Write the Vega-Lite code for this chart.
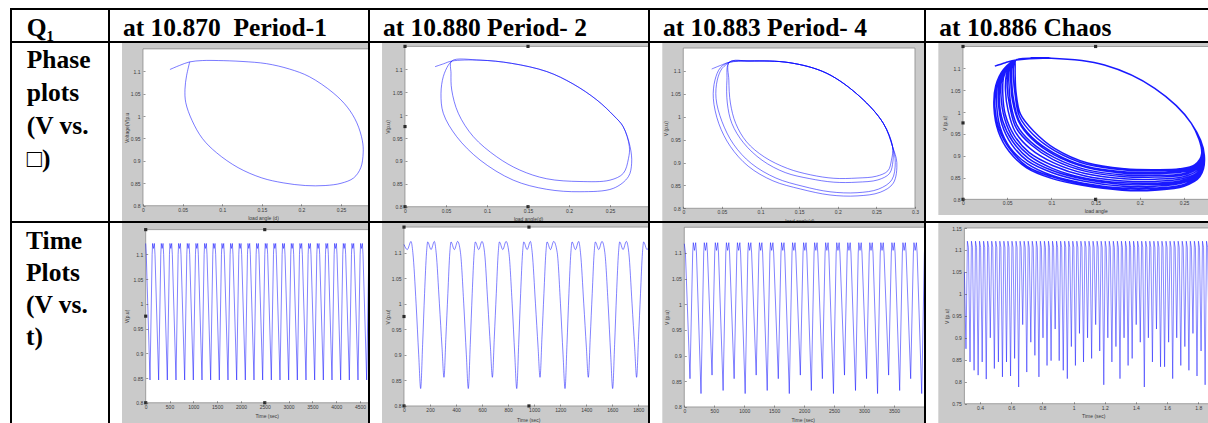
{
"$schema":"https://vega.github.io/schema/vega-lite/v6.json",
"background":"white",
"padding":{"left":10,"top":8,"right":-3,"bottom":-3},
"spacing":0,
"bounds":"flush",
"columns":5,
"config":{
 "view":{"stroke":"black","strokeWidth":2},
 "axis":{"domain":false,"grid":false,"tickSize":-2,"tickWidth":0.6,"tickColor":"#505050","labelFont":"Liberation Sans","labelFontSize":5,"labelColor":"#3a3a3a","labelOverlap":false,"labelFlush":false,"titleFont":"Liberation Sans","titleFontSize":5,"titleFontWeight":"normal","titleColor":"#3a3a3a","titleAlign":"center","titleBaseline":"middle","labelExpr":"''+datum.value"},
 "axisX":{"labelPadding":3.5},
 "axisY":{"labelPadding":5},
 "text":{"font":"Liberation Serif","fontWeight":"bold","fontSize":25.5,"align":"left","baseline":"alphabetic","lineBreak":"\n","color":"black"}
},
"datasets":{
"p1":[{"x":0.034,"y":1.104},{"x":0.046,"y":1.113},{"x":0.059,"y":1.121},{"x":0.075,"y":1.124},{"x":0.095,"y":1.124},{"x":0.125,"y":1.122},{"x":0.156,"y":1.117},{"x":0.185,"y":1.105},{"x":0.21,"y":1.088},{"x":0.24,"y":1.052},{"x":0.258,"y":1.02},{"x":0.27,"y":0.985},{"x":0.277,"y":0.945},{"x":0.278,"y":0.918},{"x":0.275,"y":0.885},{"x":0.266,"y":0.862},{"x":0.25,"y":0.85},{"x":0.23,"y":0.845},{"x":0.205,"y":0.845},{"x":0.177,"y":0.851},{"x":0.15,"y":0.862},{"x":0.12,"y":0.885},{"x":0.093,"y":0.918},{"x":0.075,"y":0.95},{"x":0.062,"y":0.99},{"x":0.054,"y":1.03},{"x":0.053,"y":1.06},{"x":0.055,"y":1.09},{"x":0.059,"y":1.121}],
"p2":[{"x":0.0366,"y":1.1057},{"x":0.047,"y":1.112},{"x":0.057,"y":1.118},{"x":0.0915,"y":1.12},{"x":0.13,"y":1.113},{"x":0.173,"y":1.095},{"x":0.205,"y":1.068},{"x":0.234,"y":1.033},{"x":0.255,"y":0.998},{"x":0.266,"y":0.975},{"x":0.2736,"y":0.931},{"x":0.2725,"y":0.905},{"x":0.2663,"y":0.873},{"x":0.25,"y":0.858},{"x":0.2134,"y":0.855},{"x":0.1728,"y":0.861},{"x":0.14,"y":0.88},{"x":0.1118,"y":0.909},{"x":0.0833,"y":0.953},{"x":0.065,"y":1.004},{"x":0.057,"y":1.0548},{"x":0.0561,"y":1.0913},{"x":0.057,"y":1.118},{"x":0.0915,"y":1.12},{"x":0.13,"y":1.113},{"x":0.173,"y":1.095},{"x":0.205,"y":1.068},{"x":0.234,"y":1.033},{"x":0.255,"y":0.998},{"x":0.266,"y":0.975},{"x":0.2745,"y":0.931},{"x":0.2764,"y":0.895},{"x":0.2724,"y":0.8655},{"x":0.254,"y":0.84},{"x":0.2134,"y":0.8327},{"x":0.1728,"y":0.838},{"x":0.132,"y":0.858},{"x":0.0915,"y":0.902},{"x":0.063,"y":0.953},{"x":0.0467,"y":1.004},{"x":0.0439,"y":1.0476},{"x":0.0467,"y":1.084},{"x":0.0528,"y":1.109},{"x":0.057,"y":1.118}],
"p3":[{"x":0.0368,"y":1.1043},{"x":0.048,"y":1.112},{"x":0.0596,"y":1.119},
{"x":0.0864,"y":1.1218},{"x":0.138,"y":1.118},{"x":0.1857,"y":1.095},{"x":0.2288,"y":1.0438},{"x":0.259,"y":0.9857},{"x":0.271,"y":0.9346},
{"x":0.2715,"y":0.903},{"x":0.267,"y":0.876},{"x":0.252,"y":0.862},{"x":0.225,"y":0.857},{"x":0.195,"y":0.857},{"x":0.163,"y":0.865},{"x":0.132,"y":0.878},{"x":0.102,"y":0.905},{"x":0.078,"y":0.943},{"x":0.063,"y":0.985},{"x":0.057,"y":1.03},{"x":0.0565,"y":1.08},{"x":0.0596,"y":1.119},
{"x":0.0864,"y":1.1218},{"x":0.138,"y":1.118},{"x":0.1857,"y":1.095},{"x":0.2288,"y":1.0438},{"x":0.259,"y":0.9857},{"x":0.271,"y":0.9346},
{"x":0.2765,"y":0.9},{"x":0.272,"y":0.855},{"x":0.255,"y":0.835},{"x":0.225,"y":0.827},{"x":0.19,"y":0.829},{"x":0.152,"y":0.842},{"x":0.116,"y":0.86},{"x":0.084,"y":0.892},{"x":0.061,"y":0.935},{"x":0.046,"y":0.985},{"x":0.0389,"y":1.04},{"x":0.041,"y":1.08},{"x":0.048,"y":1.107},{"x":0.0596,"y":1.119},
{"x":0.0864,"y":1.1218},{"x":0.138,"y":1.118},{"x":0.1857,"y":1.095},{"x":0.2288,"y":1.0438},{"x":0.259,"y":0.9857},{"x":0.271,"y":0.9346},
{"x":0.2695,"y":0.905},{"x":0.265,"y":0.882},{"x":0.25,"y":0.87},{"x":0.225,"y":0.866},{"x":0.195,"y":0.8655},{"x":0.165,"y":0.873},{"x":0.135,"y":0.887},{"x":0.105,"y":0.912},{"x":0.082,"y":0.945},{"x":0.068,"y":0.985},{"x":0.061,"y":1.03},{"x":0.059,"y":1.08},{"x":0.0596,"y":1.119},
{"x":0.0864,"y":1.1218},{"x":0.138,"y":1.118},{"x":0.1857,"y":1.095},{"x":0.2288,"y":1.0438},{"x":0.259,"y":0.9857},{"x":0.271,"y":0.9346},
{"x":0.2745,"y":0.9},{"x":0.27,"y":0.862},{"x":0.253,"y":0.842},{"x":0.225,"y":0.834},{"x":0.19,"y":0.836},{"x":0.155,"y":0.848},{"x":0.12,"y":0.866},{"x":0.088,"y":0.898},{"x":0.065,"y":0.94},{"x":0.05,"y":0.99},{"x":0.0424,"y":1.04},{"x":0.044,"y":1.08},{"x":0.05,"y":1.105},{"x":0.0596,"y":1.119}],
"p4":[{"x":0.036,"y":1.105},{"x":0.048,"y":1.113},{"x":0.06,"y":1.119},
{"x":0.0999,"y":1.123},{"x":0.16,"y":1.1076},{"x":0.2169,"y":1.0543},{"x":0.2583,"y":0.974},{"x":0.27,"y":0.905},{"x":0.262,"y":0.879},{"x":0.245,"y":0.87},{"x":0.217,"y":0.868},{"x":0.183,"y":0.87},{"x":0.141,"y":0.883},{"x":0.104,"y":0.916},{"x":0.08,"y":0.956},{"x":0.065,"y":0.995},{"x":0.06,"y":1.045},{"x":0.059,"y":1.086},{"x":0.059,"y":1.108},{"x":0.059,"y":1.115},{"x":0.06,"y":1.119},
{"x":0.0999,"y":1.123},{"x":0.16,"y":1.1076},{"x":0.2169,"y":1.0543},{"x":0.2583,"y":0.974},{"x":0.272,"y":0.902},{"x":0.266,"y":0.863},{"x":0.248,"y":0.847},{"x":0.217,"y":0.841},{"x":0.181,"y":0.842},{"x":0.137,"y":0.854},{"x":0.102,"y":0.877},{"x":0.075,"y":0.907},{"x":0.058,"y":0.946},{"x":0.048,"y":0.993},{"x":0.045,"y":1.042},{"x":0.046,"y":1.08},{"x":0.052,"y":1.105},{"x":0.06,"y":1.119},
{"x":0.0999,"y":1.123},{"x":0.16,"y":1.1076},{"x":0.2169,"y":1.0543},{"x":0.2583,"y":0.974},{"x":0.271,"y":0.904},{"x":0.264,"y":0.873},{"x":0.246,"y":0.862},{"x":0.217,"y":0.859},{"x":0.182,"y":0.86},{"x":0.14,"y":0.873},{"x":0.103,"y":0.902},{"x":0.078,"y":0.938},{"x":0.063,"y":0.978},{"x":0.056,"y":1.026},{"x":0.054,"y":1.07},{"x":0.054,"y":1.098},{"x":0.057,"y":1.112},{"x":0.06,"y":1.119},
{"x":0.0999,"y":1.123},{"x":0.16,"y":1.1076},{"x":0.2169,"y":1.0543},{"x":0.2583,"y":0.974},{"x":0.273,"y":0.901},{"x":0.267,"y":0.855},{"x":0.25,"y":0.834},{"x":0.217,"y":0.826},{"x":0.18,"y":0.826},{"x":0.136,"y":0.837},{"x":0.1,"y":0.855},{"x":0.073,"y":0.881},{"x":0.053,"y":0.919},{"x":0.042,"y":0.965},{"x":0.038,"y":1.018},{"x":0.039,"y":1.065},{"x":0.047,"y":1.1},{"x":0.06,"y":1.119},
{"x":0.0999,"y":1.123},{"x":0.16,"y":1.1076},{"x":0.2169,"y":1.0543},{"x":0.2583,"y":0.974},{"x":0.271,"y":0.903},{"x":0.264,"y":0.869},{"x":0.247,"y":0.855},{"x":0.217,"y":0.851},{"x":0.182,"y":0.852},{"x":0.139,"y":0.864},{"x":0.102,"y":0.891},{"x":0.077,"y":0.925},{"x":0.06,"y":0.964},{"x":0.053,"y":1.012},{"x":0.05,"y":1.058},{"x":0.051,"y":1.09},{"x":0.054,"y":1.109},{"x":0.06,"y":1.119},
{"x":0.0999,"y":1.123},{"x":0.16,"y":1.1076},{"x":0.2169,"y":1.0543},{"x":0.2583,"y":0.974},{"x":0.273,"y":0.901},{"x":0.267,"y":0.859},{"x":0.249,"y":0.841},{"x":0.217,"y":0.834},{"x":0.181,"y":0.834},{"x":0.137,"y":0.846},{"x":0.101,"y":0.866},{"x":0.074,"y":0.894},{"x":0.056,"y":0.933},{"x":0.045,"y":0.979},{"x":0.041,"y":1.03},{"x":0.043,"y":1.073},{"x":0.05,"y":1.103},{"x":0.06,"y":1.119},
{"x":0.0999,"y":1.123},{"x":0.16,"y":1.1076},{"x":0.2169,"y":1.0543},{"x":0.2583,"y":0.974},{"x":0.27,"y":0.904},{"x":0.263,"y":0.877},{"x":0.246,"y":0.867},{"x":0.217,"y":0.865},{"x":0.183,"y":0.867},{"x":0.14,"y":0.88},{"x":0.104,"y":0.911},{"x":0.079,"y":0.949},{"x":0.064,"y":0.989},{"x":0.059,"y":1.039},{"x":0.057,"y":1.08},{"x":0.057,"y":1.104},{"x":0.058,"y":1.114},{"x":0.06,"y":1.119},
{"x":0.0999,"y":1.123},{"x":0.16,"y":1.1076},{"x":0.2169,"y":1.0543},{"x":0.2583,"y":0.974},{"x":0.273,"y":0.9},{"x":0.268,"y":0.852},{"x":0.25,"y":0.83},{"x":0.217,"y":0.821},{"x":0.18,"y":0.821},{"x":0.135,"y":0.832},{"x":0.1,"y":0.848},{"x":0.072,"y":0.872},{"x":0.052,"y":0.91},{"x":0.04,"y":0.955},{"x":0.035,"y":1.01},{"x":0.037,"y":1.06},{"x":0.046,"y":1.098},{"x":0.06,"y":1.119},
{"x":0.0999,"y":1.123},{"x":0.16,"y":1.1076},{"x":0.2169,"y":1.0543},{"x":0.2583,"y":0.974},{"x":0.272,"y":0.903},{"x":0.265,"y":0.866},{"x":0.248,"y":0.851},{"x":0.217,"y":0.846},{"x":0.182,"y":0.847},{"x":0.138,"y":0.859},{"x":0.102,"y":0.884},{"x":0.076,"y":0.916},{"x":0.059,"y":0.955},{"x":0.051,"y":1.003},{"x":0.048,"y":1.05},{"x":0.049,"y":1.085},{"x":0.053,"y":1.107},{"x":0.06,"y":1.119},
{"x":0.0999,"y":1.123},{"x":0.16,"y":1.1076},{"x":0.2169,"y":1.0543},{"x":0.2583,"y":0.974},{"x":0.271,"y":0.903},{"x":0.264,"y":0.871},{"x":0.247,"y":0.858},{"x":0.217,"y":0.855},{"x":0.182,"y":0.856},{"x":0.139,"y":0.868},{"x":0.103,"y":0.896},{"x":0.077,"y":0.931},{"x":0.061,"y":0.97},{"x":0.054,"y":1.019},{"x":0.052,"y":1.064},{"x":0.052,"y":1.094},{"x":0.055,"y":1.11},{"x":0.06,"y":1.119},
{"x":0.0999,"y":1.123},{"x":0.16,"y":1.1076},{"x":0.2169,"y":1.0543},{"x":0.2583,"y":0.974},{"x":0.273,"y":0.901},{"x":0.267,"y":0.857},{"x":0.249,"y":0.838},{"x":0.217,"y":0.83},{"x":0.181,"y":0.83},{"x":0.136,"y":0.842},{"x":0.101,"y":0.861},{"x":0.073,"y":0.888},{"x":0.055,"y":0.926},{"x":0.044,"y":0.972},{"x":0.04,"y":1.024},{"x":0.041,"y":1.069},{"x":0.049,"y":1.101},{"x":0.06,"y":1.119},
{"x":0.0999,"y":1.123},{"x":0.16,"y":1.1076},{"x":0.2169,"y":1.0543},{"x":0.2583,"y":0.974},{"x":0.272,"y":0.902},{"x":0.266,"y":0.861},{"x":0.248,"y":0.843},{"x":0.217,"y":0.837},{"x":0.181,"y":0.838},{"x":0.137,"y":0.849},{"x":0.101,"y":0.871},{"x":0.075,"y":0.9},{"x":0.057,"y":0.939},{"x":0.047,"y":0.985},{"x":0.043,"y":1.036},{"x":0.044,"y":1.076},{"x":0.051,"y":1.104},{"x":0.06,"y":1.119},
{"x":0.0999,"y":1.123},{"x":0.16,"y":1.1076},{"x":0.2169,"y":1.0543},{"x":0.2583,"y":0.974},{"x":0.271,"y":0.904},{"x":0.263,"y":0.874},{"x":0.246,"y":0.864},{"x":0.217,"y":0.861},{"x":0.182,"y":0.863},{"x":0.14,"y":0.875},{"x":0.103,"y":0.906},{"x":0.078,"y":0.942},{"x":0.063,"y":0.982},{"x":0.057,"y":1.031},{"x":0.055,"y":1.074},{"x":0.055,"y":1.1},{"x":0.057,"y":1.112},{"x":0.06,"y":1.119},
{"x":0.0999,"y":1.123},{"x":0.16,"y":1.1076},{"x":0.2169,"y":1.0543},{"x":0.2583,"y":0.974},{"x":0.273,"y":0.9},{"x":0.268,"y":0.853},{"x":0.25,"y":0.832},{"x":0.217,"y":0.824},{"x":0.18,"y":0.824},{"x":0.135,"y":0.835},{"x":0.1,"y":0.852},{"x":0.072,"y":0.876},{"x":0.053,"y":0.915},{"x":0.041,"y":0.96},{"x":0.036,"y":1.014},{"x":0.038,"y":1.063},{"x":0.047,"y":1.099},{"x":0.06,"y":1.119}],
"t1":[{"x":0,"y":1.122},{"x":12,"y":1.1},
{"x":90,"y":0.846},{"x":135,"y":1.1},{"x":145,"y":1.122},{"x":163,"y":1.112},{"x":182,"y":1.122},{"x":195,"y":1.1},
{"x":272,"y":0.846},{"x":317,"y":1.1},{"x":327,"y":1.122},{"x":345,"y":1.112},{"x":364,"y":1.122},{"x":377,"y":1.1},
{"x":454,"y":0.846},{"x":499,"y":1.1},{"x":509,"y":1.122},{"x":527,"y":1.112},{"x":546,"y":1.122},{"x":559,"y":1.1},
{"x":636,"y":0.846},{"x":681,"y":1.1},{"x":691,"y":1.122},{"x":709,"y":1.112},{"x":728,"y":1.122},{"x":741,"y":1.1},
{"x":818,"y":0.846},{"x":863,"y":1.1},{"x":873,"y":1.122},{"x":891,"y":1.112},{"x":910,"y":1.122},{"x":923,"y":1.1},
{"x":1000,"y":0.846},{"x":1045,"y":1.1},{"x":1055,"y":1.122},{"x":1073,"y":1.112},{"x":1092,"y":1.122},{"x":1105,"y":1.1},
{"x":1182,"y":0.846},{"x":1227,"y":1.1},{"x":1237,"y":1.122},{"x":1255,"y":1.112},{"x":1274,"y":1.122},{"x":1287,"y":1.1},
{"x":1364,"y":0.846},{"x":1409,"y":1.1},{"x":1419,"y":1.122},{"x":1437,"y":1.112},{"x":1456,"y":1.122},{"x":1469,"y":1.1},
{"x":1546,"y":0.846},{"x":1591,"y":1.1},{"x":1601,"y":1.122},{"x":1619,"y":1.112},{"x":1638,"y":1.122},{"x":1651,"y":1.1},
{"x":1728,"y":0.846},{"x":1773,"y":1.1},{"x":1783,"y":1.122},{"x":1801,"y":1.112},{"x":1820,"y":1.122},{"x":1833,"y":1.1},
{"x":1910,"y":0.846},{"x":1955,"y":1.1},{"x":1965,"y":1.122},{"x":1983,"y":1.112},{"x":2002,"y":1.122},{"x":2015,"y":1.1},
{"x":2092,"y":0.846},{"x":2137,"y":1.1},{"x":2147,"y":1.122},{"x":2165,"y":1.112},{"x":2184,"y":1.122},{"x":2197,"y":1.1},
{"x":2274,"y":0.846},{"x":2319,"y":1.1},{"x":2329,"y":1.122},{"x":2347,"y":1.112},{"x":2366,"y":1.122},{"x":2379,"y":1.1},
{"x":2456,"y":0.846},{"x":2501,"y":1.1},{"x":2511,"y":1.122},{"x":2529,"y":1.112},{"x":2548,"y":1.122},{"x":2561,"y":1.1},
{"x":2638,"y":0.846},{"x":2683,"y":1.1},{"x":2693,"y":1.122},{"x":2711,"y":1.112},{"x":2730,"y":1.122},{"x":2743,"y":1.1},
{"x":2820,"y":0.846},{"x":2865,"y":1.1},{"x":2875,"y":1.122},{"x":2893,"y":1.112},{"x":2912,"y":1.122},{"x":2925,"y":1.1},
{"x":3002,"y":0.846},{"x":3047,"y":1.1},{"x":3057,"y":1.122},{"x":3075,"y":1.112},{"x":3094,"y":1.122},{"x":3107,"y":1.1},
{"x":3184,"y":0.846},{"x":3229,"y":1.1},{"x":3239,"y":1.122},{"x":3257,"y":1.112},{"x":3276,"y":1.122},{"x":3289,"y":1.1},
{"x":3366,"y":0.846},{"x":3411,"y":1.1},{"x":3421,"y":1.122},{"x":3439,"y":1.112},{"x":3458,"y":1.122},{"x":3471,"y":1.1},
{"x":3548,"y":0.846},{"x":3593,"y":1.1},{"x":3603,"y":1.122},{"x":3621,"y":1.112},{"x":3640,"y":1.122},{"x":3653,"y":1.1},
{"x":3730,"y":0.846},{"x":3775,"y":1.1},{"x":3785,"y":1.122},{"x":3803,"y":1.112},{"x":3822,"y":1.122},{"x":3835,"y":1.1},
{"x":3912,"y":0.846},{"x":3957,"y":1.1},{"x":3967,"y":1.122},{"x":3985,"y":1.112},{"x":4004,"y":1.122},{"x":4017,"y":1.1},
{"x":4094,"y":0.846},{"x":4139,"y":1.1},{"x":4149,"y":1.122},{"x":4167,"y":1.112},{"x":4186,"y":1.122},{"x":4199,"y":1.1},
{"x":4276,"y":0.846},{"x":4321,"y":1.1},{"x":4331,"y":1.122},{"x":4349,"y":1.112},{"x":4368,"y":1.122},{"x":4381,"y":1.1},
{"x":4458,"y":0.846},{"x":4503,"y":1.1},{"x":4513,"y":1.122},{"x":4531,"y":1.112},{"x":4550,"y":1.122},{"x":4563,"y":1.1},
{"x":4640,"y":0.846},{"x":4685,"y":1.1},{"x":4695,"y":1.122}],
"t2":[{"x":0,"y":1.116},{"x":25,"y":1.106},{"x":54,"y":1.122},{"x":68,"y":1.1},{"x":93,"y":1.0},{"x":113,"y":0.9},
{"x":128,"y":0.834},{"x":143,"y":0.92},{"x":158,"y":1.02},{"x":173,"y":1.1},{"x":182,"y":1.121},{"x":208,"y":1.106},{"x":233,"y":1.122},{"x":247,"y":1.1},{"x":272,"y":1.0},{"x":292,"y":0.915},
{"x":307,"y":0.856},{"x":322,"y":0.935},{"x":337,"y":1.02},{"x":352,"y":1.1},{"x":361,"y":1.121},{"x":387,"y":1.106},{"x":412,"y":1.122},{"x":434,"y":1.1},{"x":459,"y":1.0},{"x":479,"y":0.9},
{"x":494,"y":0.834},{"x":509,"y":0.92},{"x":524,"y":1.02},{"x":539,"y":1.1},{"x":548,"y":1.121},{"x":574,"y":1.106},{"x":599,"y":1.122},{"x":619,"y":1.1},{"x":644,"y":1.0},{"x":664,"y":0.915},
{"x":679,"y":0.856},{"x":694,"y":0.935},{"x":709,"y":1.02},{"x":724,"y":1.1},{"x":733,"y":1.121},{"x":759,"y":1.106},{"x":784,"y":1.122},{"x":806,"y":1.1},{"x":831,"y":1.0},{"x":851,"y":0.9},
{"x":866,"y":0.834},{"x":881,"y":0.92},{"x":896,"y":1.02},{"x":911,"y":1.1},{"x":920,"y":1.121},{"x":946,"y":1.106},{"x":971,"y":1.122},{"x":985,"y":1.1},{"x":1010,"y":1.0},{"x":1030,"y":0.915},
{"x":1045,"y":0.856},{"x":1060,"y":0.935},{"x":1075,"y":1.02},{"x":1090,"y":1.1},{"x":1099,"y":1.121},{"x":1125,"y":1.106},{"x":1150,"y":1.122},{"x":1177,"y":1.1},{"x":1202,"y":1.0},{"x":1222,"y":0.9},
{"x":1237,"y":0.834},{"x":1252,"y":0.92},{"x":1267,"y":1.02},{"x":1282,"y":1.1},{"x":1291,"y":1.121},{"x":1317,"y":1.106},{"x":1342,"y":1.122},{"x":1356,"y":1.1},{"x":1381,"y":1.0},{"x":1401,"y":0.915},
{"x":1416,"y":0.856},{"x":1431,"y":0.935},{"x":1446,"y":1.02},{"x":1461,"y":1.1},{"x":1470,"y":1.121},{"x":1496,"y":1.106},{"x":1521,"y":1.122},{"x":1543,"y":1.1},{"x":1568,"y":1.0},{"x":1588,"y":0.9},
{"x":1603,"y":0.834},{"x":1618,"y":0.92},{"x":1633,"y":1.02},{"x":1648,"y":1.1},{"x":1657,"y":1.121},{"x":1683,"y":1.106},{"x":1708,"y":1.122},{"x":1727,"y":1.1},{"x":1752,"y":1.0},{"x":1772,"y":0.915},
{"x":1787,"y":0.856},{"x":1802,"y":0.935},{"x":1817,"y":1.02},{"x":1832,"y":1.1},{"x":1841,"y":1.121},{"x":1867,"y":1.106},{"x":1892,"y":1.122}],
"t3":[{"x":0,"y":1.118},{"x":19,"y":1.1},
{"x":95,"y":0.855},{"x":140,"y":1.1},{"x":150,"y":1.12},{"x":170,"y":1.105},{"x":190,"y":1.12},{"x":203,"y":1.1},
{"x":279,"y":0.826},{"x":324,"y":1.1},{"x":334,"y":1.12},{"x":354,"y":1.105},{"x":374,"y":1.12},{"x":387,"y":1.1},
{"x":463,"y":0.862},{"x":508,"y":1.1},{"x":518,"y":1.12},{"x":538,"y":1.105},{"x":558,"y":1.12},{"x":571,"y":1.1},
{"x":648,"y":0.832},{"x":693,"y":1.1},{"x":703,"y":1.12},{"x":723,"y":1.105},{"x":743,"y":1.12},{"x":756,"y":1.1},
{"x":832,"y":0.855},{"x":877,"y":1.1},{"x":887,"y":1.12},{"x":907,"y":1.105},{"x":927,"y":1.12},{"x":940,"y":1.1},
{"x":1016,"y":0.826},{"x":1061,"y":1.1},{"x":1071,"y":1.12},{"x":1091,"y":1.105},{"x":1111,"y":1.12},{"x":1124,"y":1.1},
{"x":1200,"y":0.862},{"x":1245,"y":1.1},{"x":1255,"y":1.12},{"x":1275,"y":1.105},{"x":1295,"y":1.12},{"x":1308,"y":1.1},
{"x":1384,"y":0.832},{"x":1429,"y":1.1},{"x":1439,"y":1.12},{"x":1459,"y":1.105},{"x":1479,"y":1.12},{"x":1492,"y":1.1},
{"x":1569,"y":0.855},{"x":1614,"y":1.1},{"x":1624,"y":1.12},{"x":1644,"y":1.105},{"x":1664,"y":1.12},{"x":1677,"y":1.1},
{"x":1753,"y":0.826},{"x":1798,"y":1.1},{"x":1808,"y":1.12},{"x":1828,"y":1.105},{"x":1848,"y":1.12},{"x":1861,"y":1.1},
{"x":1937,"y":0.862},{"x":1982,"y":1.1},{"x":1992,"y":1.12},{"x":2012,"y":1.105},{"x":2032,"y":1.12},{"x":2045,"y":1.1},
{"x":2121,"y":0.832},{"x":2166,"y":1.1},{"x":2176,"y":1.12},{"x":2196,"y":1.105},{"x":2216,"y":1.12},{"x":2229,"y":1.1},
{"x":2305,"y":0.855},{"x":2350,"y":1.1},{"x":2360,"y":1.12},{"x":2380,"y":1.105},{"x":2400,"y":1.12},{"x":2413,"y":1.1},
{"x":2490,"y":0.826},{"x":2535,"y":1.1},{"x":2545,"y":1.12},{"x":2565,"y":1.105},{"x":2585,"y":1.12},{"x":2598,"y":1.1},
{"x":2674,"y":0.862},{"x":2719,"y":1.1},{"x":2729,"y":1.12},{"x":2749,"y":1.105},{"x":2769,"y":1.12},{"x":2782,"y":1.1},
{"x":2858,"y":0.832},{"x":2903,"y":1.1},{"x":2913,"y":1.12},{"x":2933,"y":1.105},{"x":2953,"y":1.12},{"x":2966,"y":1.1},
{"x":3042,"y":0.855},{"x":3087,"y":1.1},{"x":3097,"y":1.12},{"x":3117,"y":1.105},{"x":3137,"y":1.12},{"x":3150,"y":1.1},
{"x":3226,"y":0.826},{"x":3271,"y":1.1},{"x":3281,"y":1.12},{"x":3301,"y":1.105},{"x":3321,"y":1.12},{"x":3334,"y":1.1},
{"x":3411,"y":0.862},{"x":3456,"y":1.1},{"x":3466,"y":1.12},{"x":3486,"y":1.105},{"x":3506,"y":1.12},{"x":3519,"y":1.1},
{"x":3595,"y":0.832},{"x":3640,"y":1.1},{"x":3650,"y":1.12},{"x":3670,"y":1.105},{"x":3690,"y":1.12},{"x":3703,"y":1.1},
{"x":3779,"y":0.855},{"x":3824,"y":1.1},{"x":3834,"y":1.12},{"x":3854,"y":1.105},{"x":3874,"y":1.12},{"x":3887,"y":1.1},
{"x":3963,"y":0.826},{"x":4008,"y":1.1},{"x":4018,"y":1.12}],
"t4":[{"x":0.3,"y":1.05},
{"x":0.31,"y":0.875},{"x":0.319,"y":1.12},{"x":0.326,"y":1.106},
{"x":0.336,"y":0.845},{"x":0.345,"y":1.12},{"x":0.352,"y":1.106},
{"x":0.362,"y":0.826},{"x":0.371,"y":1.12},{"x":0.378,"y":1.106},
{"x":0.388,"y":0.815},{"x":0.397,"y":1.12},{"x":0.404,"y":1.106},
{"x":0.414,"y":0.845},{"x":0.423,"y":1.12},{"x":0.43,"y":1.106},
{"x":0.44,"y":0.806},{"x":0.449,"y":1.12},{"x":0.456,"y":1.106},
{"x":0.466,"y":0.9},{"x":0.475,"y":1.12},{"x":0.482,"y":1.106},
{"x":0.492,"y":0.83},{"x":0.501,"y":1.12},{"x":0.508,"y":1.106},
{"x":0.518,"y":0.845},{"x":0.527,"y":1.12},{"x":0.534,"y":1.106},
{"x":0.544,"y":0.811},{"x":0.553,"y":1.12},{"x":0.56,"y":1.106},
{"x":0.57,"y":0.845},{"x":0.579,"y":1.12},{"x":0.586,"y":1.106},
{"x":0.596,"y":0.813},{"x":0.605,"y":1.12},{"x":0.612,"y":1.106},
{"x":0.622,"y":0.853},{"x":0.631,"y":1.12},{"x":0.638,"y":1.106},
{"x":0.648,"y":0.788},{"x":0.657,"y":1.12},{"x":0.664,"y":1.106},
{"x":0.674,"y":0.93},{"x":0.683,"y":1.12},{"x":0.69,"y":1.106},
{"x":0.7,"y":0.822},{"x":0.709,"y":1.12},{"x":0.716,"y":1.106},
{"x":0.726,"y":0.89},{"x":0.735,"y":1.12},{"x":0.742,"y":1.106},
{"x":0.752,"y":0.86},{"x":0.761,"y":1.12},{"x":0.768,"y":1.106},
{"x":0.778,"y":0.811},{"x":0.787,"y":1.12},{"x":0.794,"y":1.106},
{"x":0.804,"y":0.9},{"x":0.813,"y":1.12},{"x":0.82,"y":1.106},
{"x":0.83,"y":0.837},{"x":0.839,"y":1.12},{"x":0.846,"y":1.106},
{"x":0.856,"y":0.848},{"x":0.865,"y":1.12},{"x":0.872,"y":1.106},
{"x":0.882,"y":0.92},{"x":0.891,"y":1.12},{"x":0.898,"y":1.106},
{"x":0.908,"y":0.848},{"x":0.917,"y":1.12},{"x":0.924,"y":1.106},
{"x":0.934,"y":0.826},{"x":0.943,"y":1.12},{"x":0.95,"y":1.106},
{"x":0.96,"y":0.807},{"x":0.969,"y":1.12},{"x":0.976,"y":1.106},
{"x":0.986,"y":0.88},{"x":0.995,"y":1.12},{"x":1.002,"y":1.106},
{"x":1.012,"y":0.837},{"x":1.021,"y":1.12},{"x":1.028,"y":1.106},
{"x":1.038,"y":0.91},{"x":1.047,"y":1.12},{"x":1.054,"y":1.106},
{"x":1.064,"y":0.845},{"x":1.073,"y":1.12},{"x":1.08,"y":1.106},
{"x":1.09,"y":0.9},{"x":1.099,"y":1.12},{"x":1.106,"y":1.106},
{"x":1.116,"y":0.853},{"x":1.125,"y":1.12},{"x":1.132,"y":1.106},
{"x":1.142,"y":0.93},{"x":1.151,"y":1.12},{"x":1.158,"y":1.106},
{"x":1.168,"y":0.87},{"x":1.177,"y":1.12},{"x":1.184,"y":1.106},
{"x":1.194,"y":0.793},{"x":1.203,"y":1.12},{"x":1.21,"y":1.106},
{"x":1.22,"y":0.9},{"x":1.229,"y":1.12},{"x":1.236,"y":1.106},
{"x":1.246,"y":0.845},{"x":1.255,"y":1.12},{"x":1.262,"y":1.106},
{"x":1.272,"y":0.88},{"x":1.281,"y":1.12},{"x":1.288,"y":1.106},
{"x":1.298,"y":0.807},{"x":1.307,"y":1.12},{"x":1.314,"y":1.106},
{"x":1.324,"y":0.9},{"x":1.333,"y":1.12},{"x":1.34,"y":1.106},
{"x":1.35,"y":0.837},{"x":1.359,"y":1.12},{"x":1.366,"y":1.106},
{"x":1.376,"y":0.853},{"x":1.385,"y":1.12},{"x":1.392,"y":1.106},
{"x":1.402,"y":0.93},{"x":1.411,"y":1.12},{"x":1.418,"y":1.106},
{"x":1.428,"y":0.89},{"x":1.437,"y":1.12},{"x":1.444,"y":1.106},
{"x":1.454,"y":0.788},{"x":1.463,"y":1.12},{"x":1.47,"y":1.106},
{"x":1.48,"y":0.9},{"x":1.489,"y":1.12},{"x":1.496,"y":1.106},
{"x":1.506,"y":0.845},{"x":1.515,"y":1.12},{"x":1.522,"y":1.106},
{"x":1.532,"y":0.92},{"x":1.541,"y":1.12},{"x":1.548,"y":1.106},
{"x":1.558,"y":0.834},{"x":1.567,"y":1.12},{"x":1.574,"y":1.106},
{"x":1.584,"y":0.834},{"x":1.593,"y":1.12},{"x":1.6,"y":1.106},
{"x":1.61,"y":0.89},{"x":1.619,"y":1.12},{"x":1.626,"y":1.106},
{"x":1.636,"y":0.807},{"x":1.645,"y":1.12},{"x":1.652,"y":1.106},
{"x":1.662,"y":0.9},{"x":1.671,"y":1.12},{"x":1.678,"y":1.106},
{"x":1.688,"y":0.837},{"x":1.697,"y":1.12},{"x":1.704,"y":1.106},
{"x":1.714,"y":0.88},{"x":1.723,"y":1.12},{"x":1.73,"y":1.106},
{"x":1.74,"y":0.826},{"x":1.749,"y":1.12},{"x":1.756,"y":1.106},
{"x":1.766,"y":0.91},{"x":1.775,"y":1.12},{"x":1.782,"y":1.106},
{"x":1.792,"y":0.813},{"x":1.801,"y":1.12},{"x":1.808,"y":1.106},
{"x":1.818,"y":0.87},{"x":1.827,"y":1.12},{"x":1.834,"y":1.106},
{"x":1.844,"y":0.793},{"x":1.853,"y":1.12},{"x":1.86,"y":1.106},
{"x":1.87,"y":0.88},{"x":1.879,"y":1.12}],
"qp":[{"x":0,"y":1.15},{"x":0.15,"y":1.15},{"x":0,"y":0.975},{"x":0,"y":0.8},{"x":0.15,"y":0.8}],
"qt1":[{"x":0,"y":1.15},{"x":2500,"y":1.15},{"x":0,"y":0.975},{"x":0,"y":0.8},{"x":2500,"y":0.8}],
"qt2":[{"x":0,"y":1.15},{"x":960,"y":1.15},{"x":0,"y":0.975},{"x":0,"y":0.8},{"x":960,"y":0.8}]
},
"concat":[
 {"width":98,"height":33,"data":{"values":[{"c":"Q₁"}]},"mark":{"type":"text","dx":15.7,"dy":27},"encoding":{"x":{"field":"c","type":"nominal","axis":null,"bandPosition":0,"scale":{"type":"band","paddingInner":0,"paddingOuter":0}},"y":{"field":"c","type":"nominal","axis":null,"bandPosition":0,"scale":{"type":"band","paddingInner":0,"paddingOuter":0}},"text":{"field":"c"}}},
 {"width":260,"height":33,"data":{"values":[{"c":"at 10.870 \u00a0Period-1"}]},"mark":{"type":"text","dx":14,"dy":27},"encoding":{"x":{"field":"c","type":"nominal","axis":null,"bandPosition":0,"scale":{"type":"band","paddingInner":0,"paddingOuter":0}},"y":{"field":"c","type":"nominal","axis":null,"bandPosition":0,"scale":{"type":"band","paddingInner":0,"paddingOuter":0}},"text":{"field":"c"}}},
 {"width":280,"height":33,"data":{"values":[{"c":"at 10.880 Period- 2"}]},"mark":{"type":"text","dx":14,"dy":27},"encoding":{"x":{"field":"c","type":"nominal","axis":null,"bandPosition":0,"scale":{"type":"band","paddingInner":0,"paddingOuter":0}},"y":{"field":"c","type":"nominal","axis":null,"bandPosition":0,"scale":{"type":"band","paddingInner":0,"paddingOuter":0}},"text":{"field":"c"}}},
 {"width":276,"height":33,"data":{"values":[{"c":"at 10.883 Period- 4"}]},"mark":{"type":"text","dx":14,"dy":27},"encoding":{"x":{"field":"c","type":"nominal","axis":null,"bandPosition":0,"scale":{"type":"band","paddingInner":0,"paddingOuter":0}},"y":{"field":"c","type":"nominal","axis":null,"bandPosition":0,"scale":{"type":"band","paddingInner":0,"paddingOuter":0}},"text":{"field":"c"}}},
 {"width":285,"height":33,"data":{"values":[{"c":"at 10.886 Chaos"}]},"mark":{"type":"text","dx":14.3,"dy":27},"encoding":{"x":{"field":"c","type":"nominal","axis":null,"bandPosition":0,"scale":{"type":"band","paddingInner":0,"paddingOuter":0}},"y":{"field":"c","type":"nominal","axis":null,"bandPosition":0,"scale":{"type":"band","paddingInner":0,"paddingOuter":0}},"text":{"field":"c"}}},
 {"width":98,"height":180,"data":{"values":[{"c":"Phase\nplots\n(V vs.\n□)"}]},"mark":{"type":"text","dx":15.7,"dy":26.3,"lineHeight":32.8},"encoding":{"x":{"field":"c","type":"nominal","axis":null,"bandPosition":0,"scale":{"type":"band","paddingInner":0,"paddingOuter":0}},"y":{"field":"c","type":"nominal","axis":null,"bandPosition":0,"scale":{"type":"band","paddingInner":0,"paddingOuter":0}},"text":{"field":"c"}}},
 {"width":260,"height":180,"resolve":{"axis":{"x":"independent","y":"independent"}},"layer":[
  {"data":{"values":[{}]},"mark":{"type":"rect","fill":"#cacaca","clip":true},"encoding":{"x":{"datum":-0.0265,"type":"quantitative","axis":null},"x2":{"datum":0.3},"y":{"datum":0.7,"type":"quantitative","axis":null},"y2":{"datum":1.2}}},
  {"data":{"values":[{}]},"mark":{"type":"rect","fill":"white","stroke":"#707070","strokeWidth":0.6,"clip":true},"encoding":{"x":{"datum":0,"type":"quantitative","axis":null},"x2":{"datum":0.3},"y":{"datum":0.8,"type":"quantitative","axis":null},"y2":{"datum":1.15}}},
  {"data":{"name":"p1"},"mark":{"type":"line","interpolate":"catmull-rom","stroke":"#0000ff","strokeWidth":0.7,"opacity":0.75,"clip":true},"encoding":{"x":{"field":"x","type":"quantitative","scale":{"domain":[-0.04293,0.28535],"nice":false,"zero":false},"axis":{"orient":"bottom","zindex":1,"values":[0,0.05,0.1,0.15,0.2,0.25],"offset":-16.3,"title":"load angle (d)","titleX":154,"titleY":11.5}},"y":{"field":"y","type":"quantitative","scale":{"domain":[0.7636,1.1654],"nice":false,"zero":false},"axis":{"orient":"left","zindex":1,"values":[0.8,0.85,0.9,0.95,1,1.05,1.1],"offset":-34,"title":"Voltage(V)p.u","titleX":-17,"titleY":85.3}},"order":{"value":null}}},
  {"data":{"values":[{}]},"mark":{"type":"rect","filled":false,"stroke":"black","strokeWidth":2},"encoding":{"x":{"datum":-0.04293,"type":"quantitative","axis":null},"x2":{"datum":0.28535},"y":{"datum":0.7636,"type":"quantitative","axis":null},"y2":{"datum":1.1654}}}
 ]},
 {"width":280,"height":180,"resolve":{"axis":{"x":"independent","y":"independent"}},"layer":[
  {"data":{"values":[{}]},"mark":{"type":"rect","fill":"#cacaca","clip":true},"encoding":{"x":{"datum":-0.028,"type":"quantitative","axis":null},"x2":{"datum":0.31},"y":{"datum":0.7,"type":"quantitative","axis":null},"y2":{"datum":1.2}}},
  {"data":{"values":[{}]},"mark":{"type":"rect","fill":"white","stroke":"#707070","strokeWidth":0.6,"clip":true},"encoding":{"x":{"datum":0,"type":"quantitative","axis":null},"x2":{"datum":0.3},"y":{"datum":0.8,"type":"quantitative","axis":null},"y2":{"datum":1.15}}},
  {"data":{"name":"p2"},"mark":{"type":"line","interpolate":"catmull-rom","stroke":"#0000ff","strokeWidth":0.7,"opacity":0.75,"clip":true},"encoding":{"x":{"field":"x","type":"quantitative","scale":{"domain":[-0.0439,0.29756],"nice":false,"zero":false},"axis":{"orient":"bottom","zindex":1,"values":[0,0.05,0.1,0.15,0.2,0.25],"offset":-15.3,"title":"load angle(d)","titleX":159,"titleY":11.3}},"y":{"field":"y","type":"quantitative","scale":{"domain":[0.7666,1.1596],"nice":false,"zero":false},"axis":{"orient":"left","zindex":1,"values":[0.8,0.85,0.9,0.95,1,1.05,1.1],"offset":-36,"title":"V(p.u)","titleX":-18,"titleY":84.5}},"order":{"value":null}}},
  {"data":{"name":"qp"},"mark":{"type":"square","size":10,"color":"#2b2b2b","opacity":1,"clip":true},"encoding":{"x":{"field":"x","type":"quantitative","axis":null},"y":{"field":"y","type":"quantitative","axis":null}}},
  {"data":{"values":[{}]},"mark":{"type":"rect","filled":false,"stroke":"black","strokeWidth":2},"encoding":{"x":{"datum":-0.0439,"type":"quantitative","axis":null},"x2":{"datum":0.29756},"y":{"datum":0.7666,"type":"quantitative","axis":null},"y2":{"datum":1.1596}}}
 ]},
 {"width":276,"height":180,"resolve":{"axis":{"x":"independent","y":"independent"}},"layer":[
  {"data":{"values":[{}]},"mark":{"type":"rect","fill":"#cacaca","clip":true},"encoding":{"x":{"datum":-0.0272,"type":"quantitative","axis":null},"x2":{"datum":0.33},"y":{"datum":0.7,"type":"quantitative","axis":null},"y2":{"datum":1.2}}},
  {"data":{"values":[{}]},"mark":{"type":"rect","fill":"white","stroke":"#707070","strokeWidth":0.6,"clip":true},"encoding":{"x":{"datum":0,"type":"quantitative","axis":null},"x2":{"datum":0.3},"y":{"datum":0.8,"type":"quantitative","axis":null},"y2":{"datum":1.15}}},
  {"data":{"name":"p3"},"mark":{"type":"line","interpolate":"catmull-rom","stroke":"#0000ff","strokeWidth":0.7,"opacity":0.75,"clip":true},"encoding":{"x":{"field":"x","type":"quantitative","scale":{"domain":[-0.04441,0.313],"nice":false,"zero":false},"axis":{"orient":"bottom","zindex":1,"values":[0,0.05,0.1,0.15,0.2,0.25,0.3],"offset":-13.7,"title":"load angle(d)","titleX":150.3,"titleY":11.7}},"y":{"field":"y","type":"quantitative","scale":{"domain":[0.77,1.1633],"nice":false,"zero":false},"axis":{"orient":"left","zindex":1,"values":[0.8,0.85,0.9,0.95,1,1.05,1.1],"offset":-34.3,"title":"V (p.u)","titleX":-18.3,"titleY":86.2}},"order":{"value":null}}},
  {"data":{"values":[{}]},"mark":{"type":"rect","filled":false,"stroke":"black","strokeWidth":2},"encoding":{"x":{"datum":-0.04441,"type":"quantitative","axis":null},"x2":{"datum":0.313},"y":{"datum":0.77,"type":"quantitative","axis":null},"y2":{"datum":1.1633}}}
 ]},
 {"width":285,"height":180,"resolve":{"axis":{"x":"independent","y":"independent"}},"layer":[
  {"data":{"values":[{}]},"mark":{"type":"rect","fill":"#cacaca","clip":true},"encoding":{"x":{"datum":-0.0279,"type":"quantitative","axis":null},"x2":{"datum":0.3},"y":{"datum":0.7642,"type":"quantitative","axis":null},"y2":{"datum":1.2}}},
  {"data":{"values":[{}]},"mark":{"type":"rect","fill":"white","stroke":"#707070","strokeWidth":0.6,"clip":true},"encoding":{"x":{"datum":0,"type":"quantitative","axis":null},"x2":{"datum":0.3},"y":{"datum":0.8,"type":"quantitative","axis":null},"y2":{"datum":1.15}}},
  {"data":{"name":"p4"},"mark":{"type":"line","interpolate":"catmull-rom","stroke":"#0000ff","strokeWidth":1.5,"opacity":0.9,"clip":true},"encoding":{"x":{"field":"x","type":"quantitative","scale":{"domain":[-0.043,0.2794],"nice":false,"zero":false},"axis":{"orient":"bottom","zindex":1,"values":[0,0.05,0.1,0.15,0.2,0.25],"offset":-22.7,"title":"load angle","titleX":170.7,"titleY":11.4}},"y":{"field":"y","type":"quantitative","scale":{"domain":[0.7481,1.1603],"nice":false,"zero":false},"axis":{"orient":"left","zindex":1,"values":[0.8,0.85,0.9,0.95,1,1.05,1.1],"offset":-38,"title":"V (p.u)","titleX":-18.3,"titleY":80.9}},"order":{"value":null}}},
  {"data":{"name":"qp"},"mark":{"type":"square","size":10,"color":"#2b2b2b","opacity":1,"clip":true},"encoding":{"x":{"field":"x","type":"quantitative","axis":null},"y":{"field":"y","type":"quantitative","axis":null}}},
  {"data":{"values":[{}]},"mark":{"type":"rect","filled":false,"stroke":"black","strokeWidth":2},"encoding":{"x":{"datum":-0.043,"type":"quantitative","axis":null},"x2":{"datum":0.2794},"y":{"datum":0.7481,"type":"quantitative","axis":null},"y2":{"datum":1.1603}}}
 ]},
 {"width":98,"height":203,"data":{"values":[{"c":"Time\nPlots\n(V vs.\nt)"}]},"mark":{"type":"text","dx":15,"dy":27.3,"lineHeight":32},"encoding":{"x":{"field":"c","type":"nominal","axis":null,"bandPosition":0,"scale":{"type":"band","paddingInner":0,"paddingOuter":0}},"y":{"field":"c","type":"nominal","axis":null,"bandPosition":0,"scale":{"type":"band","paddingInner":0,"paddingOuter":0}},"text":{"field":"c"}}},
 {"width":260,"height":203,"resolve":{"axis":{"x":"independent","y":"independent"}},"layer":[
  {"data":{"values":[{}]},"mark":{"type":"rect","fill":"#cacaca","clip":true},"encoding":{"x":{"datum":-497.7,"type":"quantitative","axis":null},"x2":{"datum":5000},"y":{"datum":0.7,"type":"quantitative","axis":null},"y2":{"datum":1.2}}},
  {"data":{"values":[{}]},"mark":{"type":"rect","fill":"white","stroke":"#707070","strokeWidth":0.6,"clip":true},"encoding":{"x":{"datum":0,"type":"quantitative","axis":null},"x2":{"datum":5000},"y":{"datum":0.8,"type":"quantitative","axis":null},"y2":{"datum":1.15}}},
  {"data":{"name":"t1"},"mark":{"type":"line","stroke":"#0000ff","strokeWidth":0.7,"opacity":0.7,"clip":true},"encoding":{"x":{"field":"x","type":"quantitative","scale":{"domain":[-770.7,4689],"nice":false,"zero":false},"axis":{"orient":"bottom","zindex":1,"values":[0,500,1000,1500,2000,2500,3000,3500,4000,4500],"offset":-22.3,"title":"Time (sec)","titleX":157.7,"titleY":12.3}},"y":{"field":"y","type":"quantitative","scale":{"domain":[0.755,1.1654],"nice":false,"zero":false},"axis":{"orient":"left","zindex":1,"values":[0.8,0.85,0.9,0.95,1,1.05,1.1],"offset":-36.7,"title":"V(p.u)","titleX":-19,"titleY":94}}}},
  {"data":{"name":"qt1"},"mark":{"type":"square","size":10,"color":"#2b2b2b","opacity":1,"clip":true},"encoding":{"x":{"field":"x","type":"quantitative","axis":null},"y":{"field":"y","type":"quantitative","axis":null}}},
  {"data":{"values":[{}]},"mark":{"type":"rect","filled":false,"stroke":"black","strokeWidth":2},"encoding":{"x":{"datum":-770.7,"type":"quantitative","axis":null},"x2":{"datum":4689},"y":{"datum":0.755,"type":"quantitative","axis":null},"y2":{"datum":1.1654}}}
 ]},
 {"width":280,"height":203,"resolve":{"axis":{"x":"independent","y":"independent"}},"layer":[
  {"data":{"values":[{}]},"mark":{"type":"rect","fill":"#cacaca","clip":true},"encoding":{"x":{"datum":-169,"type":"quantitative","axis":null},"x2":{"datum":2000},"y":{"datum":0.7,"type":"quantitative","axis":null},"y2":{"datum":1.2}}},
  {"data":{"values":[{}]},"mark":{"type":"rect","fill":"white","stroke":"#707070","strokeWidth":0.6,"clip":true},"encoding":{"x":{"datum":0,"type":"quantitative","axis":null},"x2":{"datum":2000},"y":{"datum":0.8,"type":"quantitative","axis":null},"y2":{"datum":1.15}}},
  {"data":{"name":"t2"},"mark":{"type":"line","interpolate":"monotone","stroke":"#0000ff","strokeWidth":0.7,"opacity":0.7,"clip":true},"encoding":{"x":{"field":"x","type":"quantitative","scale":{"domain":[-268.9,1882.2],"nice":false,"zero":false},"axis":{"orient":"bottom","zindex":1,"values":[0,200,400,600,800,1000,1200,1400,1600,1800],"offset":-19,"title":"Time (sec)","titleX":159.3,"titleY":13.3}},"y":{"field":"y","type":"quantitative","scale":{"domain":[0.7627,1.16],"nice":false,"zero":false},"axis":{"orient":"left","zindex":1,"values":[0.8,0.85,0.9,0.95,1,1.05,1.1],"offset":-35,"title":"V (p.u)","titleX":-16.7,"titleY":94.5}}}},
  {"data":{"name":"qt2"},"mark":{"type":"square","size":10,"color":"#2b2b2b","opacity":1,"clip":true},"encoding":{"x":{"field":"x","type":"quantitative","axis":null},"y":{"field":"y","type":"quantitative","axis":null}}},
  {"data":{"values":[{}]},"mark":{"type":"rect","filled":false,"stroke":"black","strokeWidth":2},"encoding":{"x":{"datum":-268.9,"type":"quantitative","axis":null},"x2":{"datum":1882.2},"y":{"datum":0.7627,"type":"quantitative","axis":null},"y2":{"datum":1.16}}}
 ]},
 {"width":276,"height":203,"resolve":{"axis":{"x":"independent","y":"independent"}},"layer":[
  {"data":{"values":[{}]},"mark":{"type":"rect","fill":"#cacaca","clip":true},"encoding":{"x":{"datum":-367.2,"type":"quantitative","axis":null},"x2":{"datum":4100},"y":{"datum":0.7,"type":"quantitative","axis":null},"y2":{"datum":1.2}}},
  {"data":{"values":[{}]},"mark":{"type":"rect","fill":"white","stroke":"#707070","strokeWidth":0.6,"clip":true},"encoding":{"x":{"datum":0,"type":"quantitative","axis":null},"x2":{"datum":4100},"y":{"datum":0.8,"type":"quantitative","axis":null},"y2":{"datum":1.15}}},
  {"data":{"name":"t3"},"mark":{"type":"line","stroke":"#0000ff","strokeWidth":0.7,"opacity":0.7,"clip":true},"encoding":{"x":{"field":"x","type":"quantitative","scale":{"domain":[-589.2,4018],"nice":false,"zero":false},"axis":{"orient":"bottom","zindex":1,"values":[0,500,1000,1500,2000,2500,3000,3500],"offset":-18,"title":"Time (sec)","titleX":153.7,"titleY":12.3}},"y":{"field":"y","type":"quantitative","scale":{"domain":[0.7648,1.1603],"nice":false,"zero":false},"axis":{"orient":"left","zindex":1,"values":[0.8,0.85,0.9,0.95,1,1.05,1.1],"offset":-35.3,"title":"V (p.u)","titleX":-17.6,"titleY":95}}}},
  {"data":{"values":[{}]},"mark":{"type":"rect","filled":false,"stroke":"black","strokeWidth":2},"encoding":{"x":{"datum":-589.2,"type":"quantitative","axis":null},"x2":{"datum":4018},"y":{"datum":0.7648,"type":"quantitative","axis":null},"y2":{"datum":1.1603}}}
 ]},
 {"width":285,"height":203,"resolve":{"axis":{"x":"independent","y":"independent"}},"layer":[
  {"data":{"values":[{}]},"mark":{"type":"rect","fill":"#cacaca","clip":true},"encoding":{"x":{"datum":0.1325,"type":"quantitative","axis":null},"x2":{"datum":2},"y":{"datum":0.6,"type":"quantitative","axis":null},"y2":{"datum":1.2}}},
  {"data":{"values":[{}]},"mark":{"type":"rect","fill":"white","stroke":"#707070","strokeWidth":0.6,"clip":true},"encoding":{"x":{"datum":0.3,"type":"quantitative","axis":null},"x2":{"datum":2},"y":{"datum":0.75,"type":"quantitative","axis":null},"y2":{"datum":1.15}}},
  {"data":{"name":"t4"},"mark":{"type":"line","stroke":"#0000ff","strokeWidth":0.7,"opacity":0.65,"clip":true},"encoding":{"x":{"field":"x","type":"quantitative","scale":{"domain":[0.0472,1.8753],"nice":false,"zero":false},"axis":{"orient":"bottom","zindex":1,"values":[0.4,0.6,0.8,1,1.2,1.4,1.6,1.8],"offset":-21.3,"title":"Time (sec)","titleX":168.3,"titleY":11.6}},"y":{"field":"y","type":"quantitative","scale":{"domain":[0.7015,1.1637],"nice":false,"zero":false},"axis":{"orient":"left","zindex":1,"values":[0.75,0.8,0.85,0.9,0.95,1,1.05,1.1,1.15],"offset":-39.4,"title":"V (p.u)","titleX":-17.7,"titleY":93.9}}}},
  {"data":{"values":[{}]},"mark":{"type":"rect","filled":false,"stroke":"black","strokeWidth":2},"encoding":{"x":{"datum":0.0472,"type":"quantitative","axis":null},"x2":{"datum":1.8753},"y":{"datum":0.7015,"type":"quantitative","axis":null},"y2":{"datum":1.1637}}}
 ]}
]
}
